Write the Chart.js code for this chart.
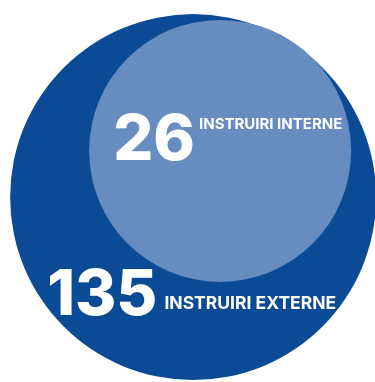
<!DOCTYPE html>
<html>
<head>
<meta charset="utf-8">
<script src="https://cdn.jsdelivr.net/npm/chart.js@4/dist/chart.umd.min.js"></script>
<style>
  html, body { margin: 0; padding: 0; background: #fff; }
  #wrap { width: 375px; height: 382px; position: relative; }
</style>
</head>
<body>
<div id="wrap"><canvas id="circlesChart"></canvas></div>
<script>
// two nested circles: external trainings (large) and internal trainings (small)
var categories = ['INSTRUIRI EXTERNE', 'INSTRUIRI INTERNE'];
var counts = [135, 26];
// circle centres on a 0..100 grid, radius in px
var bubbleX = [51.5, 58.7];
var bubbleY = [51.6, 39.5];
var bubbleR = [183, 131];
var colors = ['#0b4a95', '#678cbf'];

var points = counts.map(function (c, i) {
    return { x: bubbleX[i], y: bubbleY[i], r: bubbleR[i], count: c, label: categories[i] };
});

// where each label sits relative to its circle centre
var labelLayout = [
    { dx: -146, dy: 118, numSize: 63, textSize: 17.5, textDy: -6, gap: 7 },
    { dx: -107, dy: 9, numSize: 63, textSize: 15, textDy: -31, gap: 4 }
];

var labelsPlugin = {
    id: 'circleLabels',
    afterDatasetsDraw: function (chart) {
        var ctx = chart.ctx;
        var meta = chart.getDatasetMeta(0);
        ctx.save();
        ctx.fillStyle = '#ffffff';
        ctx.textAlign = 'left';
        ctx.textBaseline = 'alphabetic';
        meta.data.forEach(function (el, i) {
            var lay = labelLayout[i];
            var x = el.x + lay.dx;
            var y = el.y + lay.dy;
            ctx.font = '800 ' + lay.numSize + 'px Inter';
            var num = String(counts[i]);
            ctx.fillText(num, x, y);
            var w = ctx.measureText(num).width;
            ctx.font = '700 ' + lay.textSize + 'px Inter';
            ctx.fillText(categories[i], x + w + lay.gap, y + lay.textDy);
        });
        ctx.restore();
    }
};

new Chart(document.getElementById('circlesChart'), {
    type: 'bubble',
    data: {
        datasets: [{
            data: points,
            backgroundColor: colors,
            borderWidth: 0,
            hoverBorderWidth: 0,
            clip: false
        }]
    },
    options: {
        responsive: true,
        maintainAspectRatio: false,
        animation: false,
        events: [],
        layout: { padding: 0, autoPadding: false },
        plugins: {
            legend: { display: false },
            tooltip: { enabled: false }
        },
        scales: {
            x: { display: false, min: 0, max: 100 },
            y: { display: false, min: 0, max: 100, reverse: true }
        }
    },
    plugins: [labelsPlugin]
});
</script>
</body>
</html>
